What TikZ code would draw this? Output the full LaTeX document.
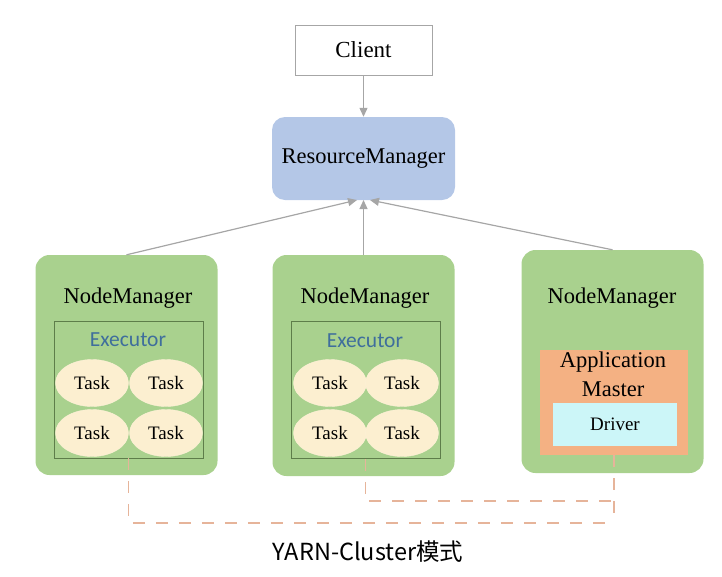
\documentclass[tikz,border=0pt]{standalone}
\usepackage{fontspec}
\setmainfont{Liberation Serif}
\newfontfamily\execfont{Carlito}
\newfontfamily\cjkfont{Noto Sans CJK SC}
\usetikzlibrary{shapes.geometric,arrows.meta}
\definecolor{nmgreen}{HTML}{A9D18E}
\definecolor{rmblue}{HTML}{B4C7E7}
\definecolor{taskfill}{HTML}{FCEFD0}
\definecolor{amorange}{HTML}{F4B183}
\definecolor{drvcyan}{HTML}{CCF6F8}
\definecolor{exborder}{HTML}{5E7D4A}
\definecolor{extext}{HTML}{3F6E9C}
\definecolor{arrgray}{HTML}{A6A6A6}
\definecolor{dashcol}{HTML}{E6B49A}
\tikzset{
  clientbox/.style={draw=arrgray, line width=0.8pt, fill=white, minimum width=137pt, minimum height=50pt, inner sep=0pt, font=\fontsize{23}{27}\selectfont},
  rmbox/.style={fill=rmblue, rounded corners=13pt, minimum width=183pt, minimum height=83pt, inner sep=0pt, font=\fontsize{22.5}{27}\selectfont},
  nmbox/.style={fill=nmgreen, rounded corners=14pt, minimum width=182pt, inner sep=0pt},
  nmtext/.style={inner sep=0pt, font=\fontsize{22.5}{27}\selectfont},
  exbox/.style={draw=exborder, line width=0.8pt, minimum width=149pt, minimum height=137pt, inner sep=0pt},
  extxt/.style={inner sep=0pt, text=extext, font=\execfont\fontsize{21.5}{26}\selectfont},
  task/.style={ellipse, fill=taskfill, draw=taskfill!85!white, minimum width=73pt, minimum height=47pt, inner sep=0pt, font=\fontsize{19}{23}\selectfont},
  ambox/.style={fill=amorange, minimum width=148pt, minimum height=105pt, inner sep=0pt},
  amtext/.style={inner sep=0pt, align=center, font=\fontsize{22.5}{29}\selectfont},
  drvbox/.style={fill=drvcyan, minimum width=124pt, minimum height=43pt, inner sep=0pt, font=\fontsize{19}{23}\selectfont},
  arr/.style={draw=arrgray, line width=1.2pt, -{Triangle[length=9pt,width=8pt]}},
  dashline/.style={draw=dashcol, line width=1.6pt, dash pattern=on 12pt off 11pt}
}
\begin{document}
\begin{tikzpicture}[x=1pt,y=-1pt]
\useasboundingbox (0,0) rectangle (722,576);
% top
\node[clientbox] (client) at (363.5,50) {Client};
\node[rmbox] (rm) at (363.5,158.5) {ResourceManager};
% node managers
\node[nmbox, minimum height=220pt] (nm1) at (126.5,365) {};
\node[nmbox, minimum height=221pt] (nm2) at (363.5,365.5) {};
\node[nmbox, minimum height=223pt] (nm3) at (612.5,361.5) {};
\node[nmtext] (nm1t) at (128,298) {NodeManager};
\node[nmtext] (nm2t) at (365,298) {NodeManager};
\node[nmtext] (nm3t) at (612,298) {NodeManager};
% executors
\node[exbox] (ex1) at (128.5,389.5) {};
\node[exbox] (ex2) at (365.5,390) {};
\node[extxt] (ex1t) at (128,340) {Executor};
\node[extxt] (ex2t) at (365,341) {Executor};
\node[task] (t11) at (92,383) {Task};
\node[task] (t12) at (166,383) {Task};
\node[task] (t13) at (92,433) {Task};
\node[task] (t14) at (166,433) {Task};
\node[task] (t21) at (330,383) {Task};
\node[task] (t22) at (402,383) {Task};
\node[task] (t23) at (330,433) {Task};
\node[task] (t24) at (402,433) {Task};
% application master
\node[ambox] (am) at (614,402.5) {};
\node[amtext] (amt) at (613,374) {Application\\Master};
\node[drvbox] (drv) at (615,424.5) {Driver};
% arrows
\coordinate (rmL) at (357,200);
\coordinate (rmM) at (363.5,200);
\coordinate (rmR) at (370,200);
\draw[arr] (client) -- (rm);
\draw[arr] (nm1.north) -- (rmL);
\draw[arr] (nm2.north) -- (rmM);
\draw[arr] (nm3.north) -- (rmR);
% dashed links
\coordinate (low1) at (128.5,523);
\coordinate (lowR) at (614,523);
\coordinate (up2) at (365.5,501);
\coordinate (upR) at (614,501);
\draw[dashline] (am.south) -- (lowR);
\draw[dashline] (ex1.south) -- (low1) -- (lowR);
\draw[dashline] (ex2.south) -- (up2) -- (upR);
% caption
\node[inner sep=0pt] (cap) at (368,552) {\cjkfont\fontsize{23.5}{28}\selectfont YARN-Cluster模式};
\end{tikzpicture}
\end{document}
